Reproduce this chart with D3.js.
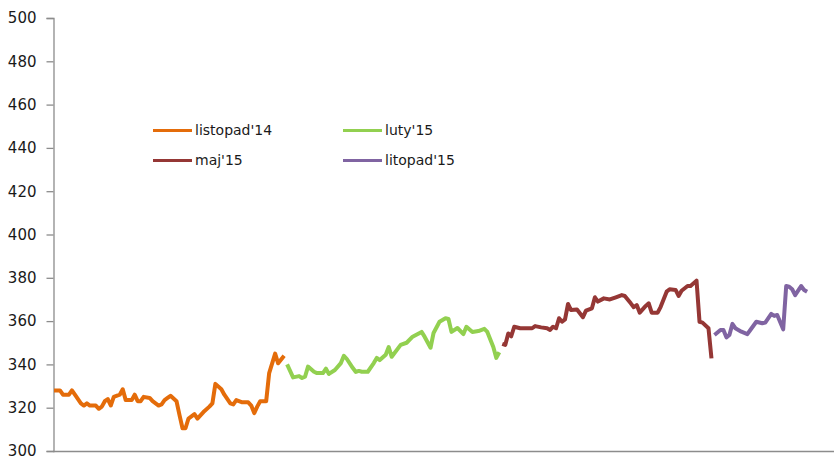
<!DOCTYPE html>
<html>
<head>
<meta charset="utf-8">
<script src="https://cdn.jsdelivr.net/npm/d3@7"></script>
<style>
  html, body { margin: 0; padding: 0; background: #fff; }
  svg { display: block; }
</style>
</head>
<body>
<svg id="chart" width="835" height="463"></svg>
<script>
// ---- data (day offsets and values) ----
const seriesNames = ["listopad'14", "luty'15", "maj'15", "litopad'15"];
const seriesColors = ["#E46C0A", "#92D050", "#953735", "#8064A2"];

const daysNov14 = [0,2,3,5,6,7,9,10,11,12,14,15,16,17,18,19,20,22,23,24,26,27,28,29,30,32,33,35,36,37,38,39,41,42,43,44,45,47,48,50,52,53,54,56,57,59,60,61,63,65,66,67,68,69,71,72,74,75,77];
const valsNov14 = [328,328,326,326,328,326,322,321,322,321,321,319.5,320.5,323,324,321,325,326,328.5,323.5,323.5,326,323,323,325,324.5,323,321,321.5,323.5,324.5,325.5,323,316.6,310.5,310.5,315,317,315,318,320.5,322,331,328.5,326,322,321.5,323.5,322.5,322.5,321,317.5,320.5,323,323,336,345,340.5,344];

const daysFeb15 = [78,80,82,83,84,85,87,88,90,91,92,94,96,97,98,100,101,102,103,105,107,108,109,111,112,113,116,118,120,123,124,126,127,129,131,132,133,135,137,138,140,142,144,145,147,148,149];
const valsFeb15 = [340,334,334.6,333.7,334.3,339,336.6,336,336,338,335.6,337.4,340.6,344,342.5,338.3,336.5,337,336.6,336.6,340.6,343,342,344.5,348,343.5,349,350,352.8,355,352.8,347.7,354.5,359.7,361.3,361,355,356.8,354,357.4,355,355.4,356.4,355,348,343,345.6];

const daysMay15 = [150,151,152,153,154,156,158,160,161,163,165,166,167,168,169,170,171,172,173,175,177,178,180,181,182,184,186,188,190,191,193,194,195,196,198,199,200,202,203,205,206,208,209,210,212,213,215,216,217,219,220];
const valsMay15 = [349.5,349,354.3,353,357.4,356.7,356.7,356.7,357.7,357.1,356.7,355.9,357.4,356.7,361.3,359.7,360.8,367.9,365.1,365.4,361.8,364.8,365.9,371,369,370.5,370,371,372,371.6,368.2,366.4,367.4,363.9,367,368.2,363.9,363.9,366.6,373.6,374.7,374.4,371.6,374,376.2,376.2,378.7,359.7,359.3,356.7,342.8];

const daysNov15 = [221,223,224,225,226,227,228,230,232,233,235,237,238,240,241,242,244,245,246,247,248,250,251,252];
const valsNov15 = [353.6,355.9,355.9,352.5,353.6,358.7,356.7,355.1,354,355.9,359.7,359,359.3,363.3,362.4,362.8,356.2,376.2,375.9,374.7,372,376.2,374.4,373.6];

const yTicks = [300,320,340,360,380,400,420,440,460,480,500];

// ---- build ----
const seriesDays = [daysNov14, daysFeb15, daysMay15, daysNov15];
const seriesVals = [valsNov14, valsFeb15, valsMay15, valsNov15];
const series = seriesNames.map((name, i) => ({
  name, color: seriesColors[i],
  points: seriesDays[i].map((d, j) => ({ day: d, value: seriesVals[i][j] }))
}));

const svg = d3.select("#chart");
const x = d3.scaleLinear().domain([0, 261]).range([54, 834]);
const y = d3.scaleLinear().domain([300, 500]).range([451, 18]);

// y axis
const yAxis = d3.axisLeft(y).tickValues(yTicks).tickSize(7).tickPadding(10).tickFormat(d3.format("d"));
const gy = svg.append("g").attr("transform", "translate(53.5,0)").call(yAxis);
gy.select(".domain").attr("stroke", "#8c8c8c").attr("stroke-width", 1.3);
gy.selectAll(".tick line").attr("stroke", "#8c8c8c").attr("stroke-width", 1.3);
gy.selectAll(".tick text")
  .attr("font-family", "DejaVu Sans, Verdana, sans-serif")
  .attr("font-size", 15)
  .attr("fill", "#1a1a1a");

// x axis (no labels)
const xAxis = d3.axisBottom(x).tickValues([]).tickSizeOuter(0);
const gx = svg.append("g").attr("transform", "translate(0,451.5)").call(xAxis);
gx.select(".domain").attr("stroke", "#8c8c8c").attr("stroke-width", 1.3)
  .attr("d", `M${x(0) - 1},0H${x(261)}`);

// lines
const line = d3.line().x(d => x(d.day)).y(d => y(d.value)).curve(d3.curveLinear);
svg.append("g").selectAll("path").data(series).join("path")
  .attr("d", d => line(d.points))
  .attr("fill", "none")
  .attr("stroke", d => d.color)
  .attr("stroke-width", 4)
  .attr("stroke-linejoin", "round")
  .attr("stroke-linecap", "butt");

// legend
const legendPos = [[153, 130.5], [343, 130.5], [153, 160.5], [343, 160.5]];
const lg = svg.append("g").selectAll("g").data(series).join("g")
  .attr("transform", (d, i) => `translate(${legendPos[i][0]},${legendPos[i][1]})`);
lg.append("line").attr("x1", 0).attr("x2", 39).attr("y1", 0).attr("y2", 0)
  .attr("stroke", d => d.color).attr("stroke-width", 3);
lg.append("text").attr("x", 42).attr("y", 0).attr("dy", "0.35em")
  .attr("font-family", "DejaVu Sans, Verdana, sans-serif")
  .attr("font-size", 14).attr("fill", "#1a1a1a")
  .text(d => d.name);
</script>
</body>
</html>
